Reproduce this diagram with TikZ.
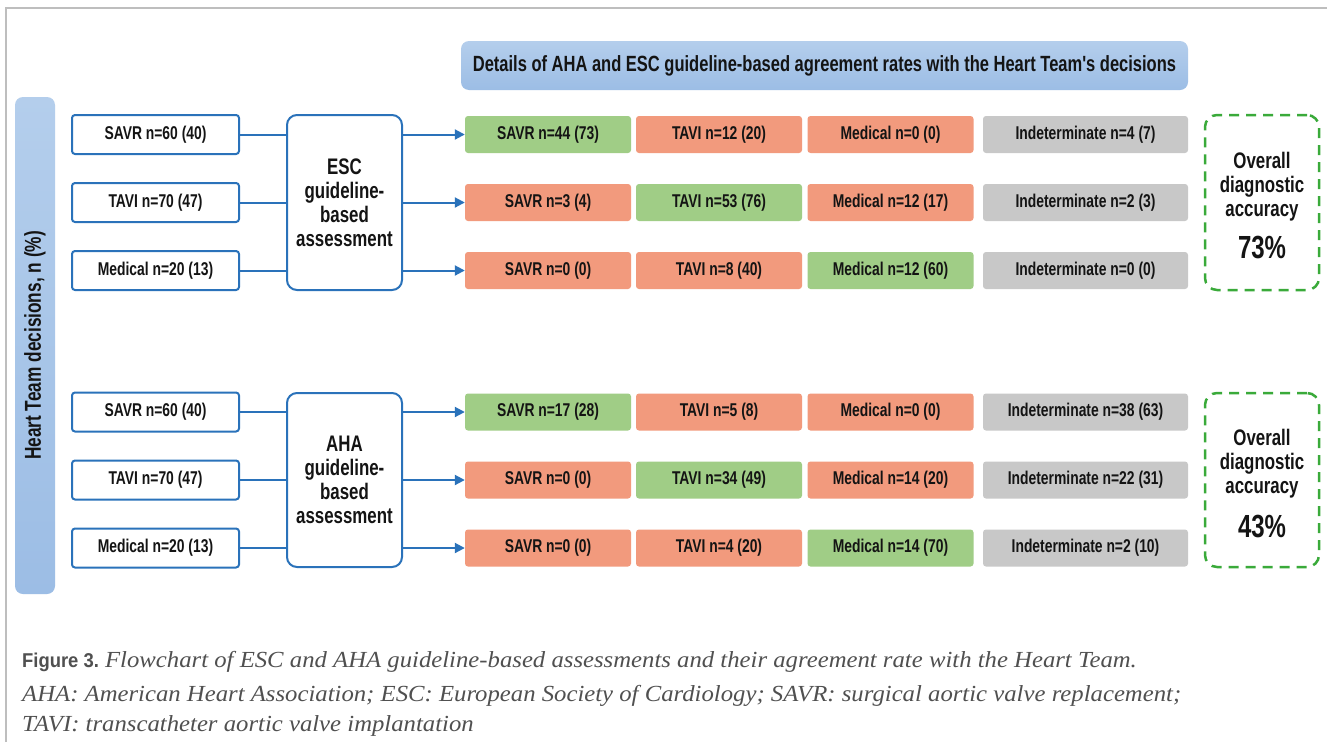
\documentclass[tikz,border=0pt]{standalone}
\usepackage{fontspec}
\setmainfont{Liberation Sans}
\newfontfamily\cond[FakeStretch=0.75]{Liberation Sans}
\newfontfamily\figfont[FakeStretch=0.92]{Liberation Sans}
\newfontfamily\capserif[FakeStretch=1.075]{Liberation Serif}
\usetikzlibrary{arrows.meta}
\definecolor{lineblue}{RGB}{42,114,186}
\definecolor{hdtop}{RGB}{180,206,236}
\definecolor{hdbot}{RGB}{156,189,229}
\definecolor{okgreen}{RGB}{160,205,134}
\definecolor{salmon}{RGB}{242,154,125}
\definecolor{indgray}{RGB}{200,200,200}
\definecolor{dashgreen}{RGB}{58,170,58}
\definecolor{framegray}{RGB}{190,190,190}
\definecolor{capgray}{RGB}{80,80,80}
\definecolor{txt}{RGB}{20,20,20}
\tikzset{
  inbox/.style={draw=lineblue, line width=2pt, rounded corners=3pt, fill=white,
    minimum width=167pt, minimum height=39pt, inner sep=0pt, text=txt,
    font=\cond\bfseries\fontsize{18.5}{20}\selectfont},
  midbox/.style={draw=lineblue, line width=2pt, rounded corners=10pt, fill=white,
    minimum width=115pt, minimum height=175pt, inner sep=0pt, align=center, text=txt,
    font=\cond\bfseries\fontsize{22.5}{24}\selectfont},
  res/.style={rounded corners=3pt, minimum width=166pt, minimum height=37pt, inner sep=0pt,
    text=txt, font=\cond\bfseries\fontsize{18.5}{20}\selectfont},
  gr/.style={res, fill=okgreen},
  sa/.style={res, fill=salmon},
  ig/.style={res, fill=indgray, minimum width=205pt},
  dbox/.style={draw=dashgreen, line width=2.5pt, dash pattern=on 10pt off 7pt,
    rounded corners=12pt, minimum width=114pt, minimum height=175pt, inner sep=0pt},
  acc/.style={align=center, text=txt, font=\cond\bfseries\fontsize{22.5}{24}\selectfont},
  pct/.style={text=txt, font=\cond\bfseries\fontsize{32}{34}\selectfont},
  link/.style={draw=lineblue, line width=2pt},
  arr/.style={link, -{Triangle[length=10pt,width=10pt]}},
  capline/.style={anchor=base west, inner sep=0pt, text=capgray,
    font=\capserif\itshape\fontsize{23}{25}\selectfont},
}
\begin{document}
\begin{tikzpicture}[x=1pt,y=-1pt]
\useasboundingbox (0,0) rectangle (1327,742);
\fill[white] (0,0) rectangle (1327,742);
\draw[framegray, line width=1.3pt] (6,742) -- (6,8) -- (1327,8);

% header
\node[rounded corners=8pt, top color=hdtop, bottom color=hdbot, minimum width=727pt,
  minimum height=49pt, inner sep=0pt, text=txt,
  font=\cond\bfseries\fontsize{22}{24}\selectfont] (hdr) at (824.5,65.5)
  {Details of AHA and ESC guideline-based agreement rates with the Heart Team's decisions};

% left bar
\node[rounded corners=8pt, top color=hdtop, bottom color=hdbot, minimum width=40pt,
  minimum height=497pt, inner sep=0pt] (bar) at (35,345.5) {};
\node[rotate=90, text=txt, font=\cond\bfseries\fontsize{23}{25}\selectfont] (bartxt) at (bar.center)
  {Heart Team decisions, n (\%)};

% ESC block
\node[inbox] (es1) at (155.5,134.5) {SAVR n=60 (40)};
\node[inbox] (es2) at (155.5,202.5) {TAVI n=70 (47)};
\node[inbox] (es3) at (155.5,270.5) {Medical n=20 (13)};
\node[midbox] (esc) at (344.5,202.5) {ESC\\guideline-\\based\\assessment};

\node[gr] (e11) at (548,134.5) {SAVR n=44 (73)};
\node[sa] (e12) at (719,134.5) {TAVI n=12 (20)};
\node[sa] (e13) at (890.5,134.5) {Medical n=0 (0)};
\node[ig] (e14) at (1085.5,134.5) {Indeterminate n=4 (7)};
\node[sa] (e21) at (548,202.5) {SAVR n=3 (4)};
\node[gr] (e22) at (719,202.5) {TAVI n=53 (76)};
\node[sa] (e23) at (890.5,202.5) {Medical n=12 (17)};
\node[ig] (e24) at (1085.5,202.5) {Indeterminate n=2 (3)};
\node[sa] (e31) at (548,270.5) {SAVR n=0 (0)};
\node[sa] (e32) at (719,270.5) {TAVI n=8 (40)};
\node[gr] (e33) at (890.5,270.5) {Medical n=12 (60)};
\node[ig] (e34) at (1085.5,270.5) {Indeterminate n=0 (0)};

\foreach \i in {1,2,3} {
  \draw[link] (es\i.east) -- (es\i.east -| esc.west);
  \draw[arr] (esc.east |- e\i1.west) -- (e\i1.west);
}

\node[dbox] (edash) at (1262,202.5) {};
\node[acc] (eacc) at (1262,187) {Overall\\diagnostic\\accuracy};
\node[pct] (epct) at (1262,248) {73\%};

% AHA block
\node[inbox] (as1) at (155.5,412) {SAVR n=60 (40)};
\node[inbox] (as2) at (155.5,480) {TAVI n=70 (47)};
\node[inbox] (as3) at (155.5,548) {Medical n=20 (13)};
\node[midbox, minimum height=174pt] (aha) at (344.5,480) {AHA\\guideline-\\based\\assessment};

\node[gr] (a11) at (548,412) {SAVR n=17 (28)};
\node[sa] (a12) at (719,412) {TAVI n=5 (8)};
\node[sa] (a13) at (890.5,412) {Medical n=0 (0)};
\node[ig] (a14) at (1085.5,412) {Indeterminate n=38 (63)};
\node[sa] (a21) at (548,480) {SAVR n=0 (0)};
\node[gr] (a22) at (719,480) {TAVI n=34 (49)};
\node[sa] (a23) at (890.5,480) {Medical n=14 (20)};
\node[ig] (a24) at (1085.5,480) {Indeterminate n=22 (31)};
\node[sa] (a31) at (548,548) {SAVR n=0 (0)};
\node[sa] (a32) at (719,548) {TAVI n=4 (20)};
\node[gr] (a33) at (890.5,548) {Medical n=14 (70)};
\node[ig] (a34) at (1085.5,548) {Indeterminate n=2 (10)};

\foreach \i in {1,2,3} {
  \draw[link] (as\i.east) -- (as\i.east -| aha.west);
  \draw[arr] (aha.east |- a\i1.west) -- (a\i1.west);
}

\node[dbox, minimum height=174pt] (adash) at (1262,480) {};
\node[acc] (aacc) at (1262,464) {Overall\\diagnostic\\accuracy};
\node[pct] (apct) at (1262,526) {43\%};

% caption
\node[capline] (cap1) at (22,667)
  {{\figfont\upshape\bfseries\fontsize{20}{22}\selectfont Figure 3.}\hspace{-2pt} Flowchart of ESC and AHA guideline-based assessments and their agreement rate with the Heart Team.};
\node[capline] (cap2) at (22,701)
  {AHA: American Heart Association; ESC: European Society of Cardiology; SAVR: surgical aortic valve replacement;};
\node[capline] (cap3) at (22,731)
  {TAVI: transcatheter aortic valve implantation};
\end{tikzpicture}
\end{document}
